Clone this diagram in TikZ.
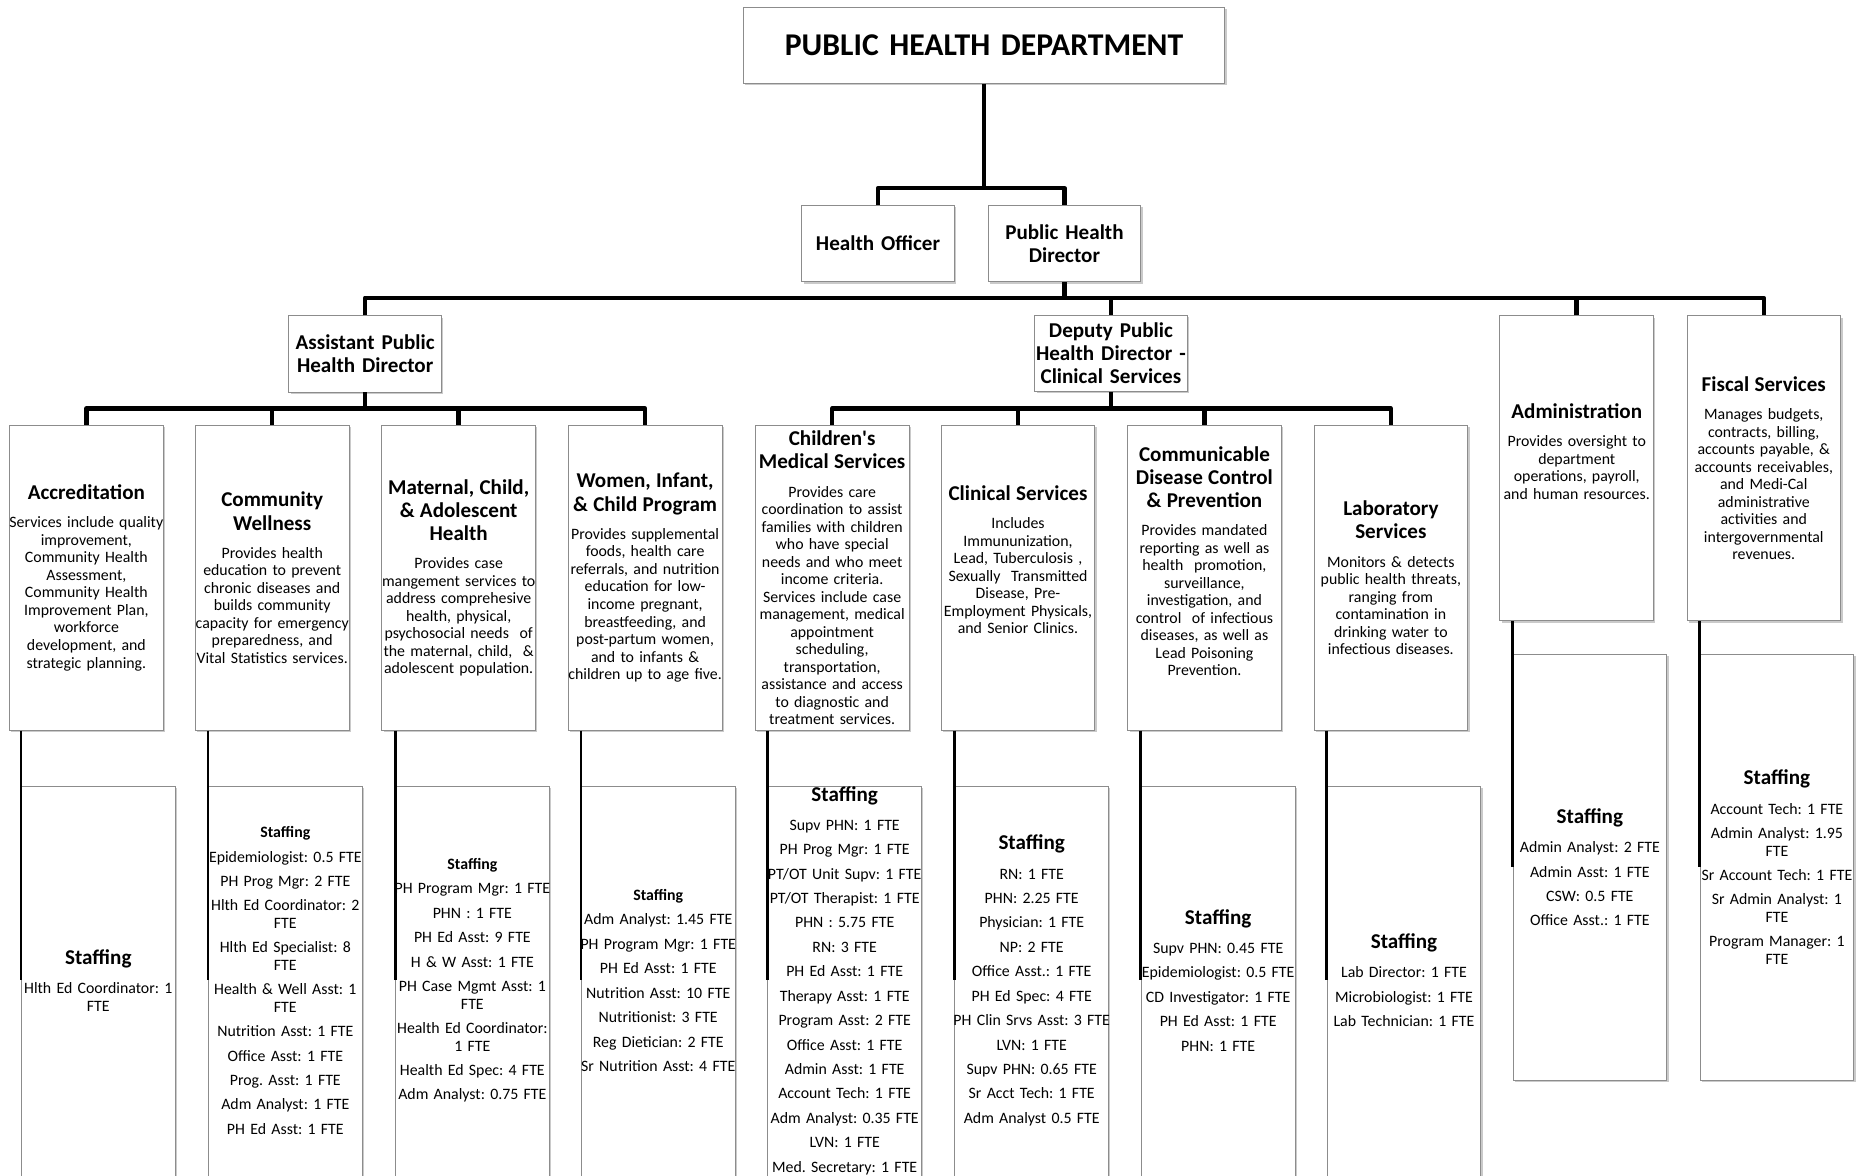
\documentclass[tikz,border=0pt]{standalone}
\usepackage{fontspec}
\setmainfont{Carlito}
\usetikzlibrary{shadows}
\setlength{\parindent}{0pt}
\frenchspacing

\newcommand{\unithd}[1]{{\fontsize{17.7}{19.5}\selectfont\bfseries #1\par}\vspace{9pt}}
\newcommand{\staffhd}{{\fontsize{17.7}{19.5}\selectfont\bfseries Staffing\par}\vspace{4pt}}
\newcommand{\smallstaffhd}{{\bfseries Staffing\par}}

\tikzset{
  box/.style={draw=black!45, fill=white, line width=0.7pt, inner ysep=0pt, inner xsep=-5pt,
    font=\fontsize{13.3}{14.7}\selectfont, execute at begin node=\centering,
    drop shadow={shadow xshift=1.6pt, shadow yshift=-1.6pt, opacity=0.35, fill=black!60}},
  head/.style={box, text width=138pt, minimum width=128pt, minimum height=64pt,
    font=\fontsize{17.7}{19.5}\selectfont\bfseries},
  unit/.style={box, text width=139pt, minimum width=129pt, minimum height=256pt},
  staff/.style={unit, minimum height=358pt, execute at begin node={\setlength{\parskip}{5.8pt}}},
  colstaff/.style={staff, minimum height=340pt, execute at end node={\par\kern14pt}},
  conn/.style={line width=3.8pt, line join=round},
  link/.style={line width=2.4pt}
}

\begin{document}
\begin{tikzpicture}[x=1pt, y=-1pt]

\useasboundingbox (0,0) rectangle (1568,987);

% Department and directors
\node[box, text width=414pt, minimum width=404pt, minimum height=64pt,
  font=\fontsize{26.6}{30}\selectfont\bfseries] (dept) at (826,38) {PUBLIC HEALTH DEPARTMENT};

\node[head] (ho) at (737,204.5) {Health Officer};
\node[head] (dir) at (893.5,204.5) {Public Health\\ Director};

\node[head] (asst) at (306.5,297) {Assistant Public\\ Health Director};
\node[head] (dep) at (932.5,296.5) {Deputy Public\\ Health Director -\\ Clinical Services};

% Administration and fiscal
\node[unit] (adm) at (1323.5,393) {\unithd{Administration}Provides oversight to\\ department\\ operations, payroll,\\ and human resources.\par\kern28pt};
\node[unit] (fisc) at (1480.5,393) {\unithd{Fiscal Services}Manages budgets,\\ contracts, billing,\\ accounts payable, \&\\ accounts receivables,\\ and Medi-Cal\\ administrative\\ activities and\\ intergovernmental\\ revenues.};

% Programs under the assistant director
\node[unit] (acc) at (72.5,485) {\unithd{Accreditation}Services include quality\\ improvement,\\ Community Health\\ Assessment,\\ Community Health\\ Improvement Plan,\\ workforce\\ development, and\\ strategic planning.};
\node[unit] (cw) at (228.5,485) {\unithd{Community\\ Wellness}Provides health\\ education to prevent\\ chronic diseases and\\ builds community\\ capacity for emergency\\ preparedness, and\\ Vital Statistics services.};
\node[unit] (mcah) at (385,485) {\unithd{Maternal, Child,\\ \& Adolescent\\ Health}Provides case\\ mangement services to\\ address comprehesive\\ health, physical,\\ psychosocial needs~~of\\ the maternal, child,~~\&\\ adolescent population.};
\node[unit] (wic) at (541.5,485) {\unithd{Women, Infant,\\ \& Child Program}Provides supplemental\\ foods, health care\\ referrals, and nutrition\\ education for low-\\ income pregnant,\\ breastfeeding, and\\ post-partum women,\\ and to infants \&\\ children up to age five.};

% Programs under the deputy director
\node[unit] (cms) at (698.5,485) {\unithd{Children\textquotesingle s\\ Medical Services}Provides care\\ coordination to assist\\ families with children\\ who have special\\ needs and who meet\\ income criteria.\\ Services include case\\ management, medical\\ appointment\\ scheduling,\\ transportation,\\ assistance and access\\ to diagnostic and\\ treatment services.};
\node[unit] (clin) at (854.5,485) {\unithd{Clinical Services}Includes\\ Immununization,\\ Lead, Tuberculosis~,\\ Sexually~~Transmitted\\ Disease, Pre-\\ Employment Physicals,\\ and Senior Clinics.\par\kern30pt};
\node[unit] (cdcp) at (1011,485) {\unithd{Communicable\\ Disease Control\\ \& Prevention}Provides mandated\\ reporting as well as\\ health~~promotion,\\ surveillance,\\ investigation, and\\ control~~of infectious\\ diseases, as well as\\ Lead Poisoning\\ Prevention.\par\kern28pt};
\node[unit] (lab) at (1167.5,485) {\unithd{Laboratory\\ Services}Monitors \& detects\\ public health threats,\\ ranging from\\ contamination in\\ drinking water to\\ infectious diseases.};

% Staffing
\node[colstaff] (accS) at (82.5,830) {\staffhd Hlth Ed Coordinator: 1\\ FTE};
\node[colstaff] (cwS) at (239.5,830) {\smallstaffhd Epidemiologist: 0.5 FTE\par PH Prog Mgr: 2 FTE\par Hlth Ed Coordinator: 2\\ FTE\par Hlth Ed Specialist: 8\\ FTE\par Health \& Well Asst: 1\\ FTE\par Nutrition Asst: 1 FTE\par Office Asst: 1 FTE\par Prog. Asst: 1 FTE\par Adm Analyst: 1 FTE\par PH Ed Asst: 1 FTE};
\node[colstaff] (mcahS) at (396.5,830) {\smallstaffhd PH Program Mgr: 1 FTE\par PHN : 1 FTE\par PH Ed Asst: 9 FTE\par H \& W Asst: 1 FTE\par PH Case Mgmt Asst: 1\\ FTE\par Health Ed Coordinator:\\ 1 FTE\par Health Ed Spec: 4 FTE\par Adm Analyst: 0.75 FTE};
\node[colstaff] (wicS) at (552.5,830) {\smallstaffhd Adm Analyst: 1.45 FTE\par PH Program Mgr: 1 FTE\par PH Ed Asst: 1 FTE\par Nutrition Asst: 10 FTE\par Nutritionist: 3 FTE\par Reg Dietician: 2 FTE\par Sr Nutrition Asst: 4 FTE};
\node[colstaff] (cmsS) at (709,830) {\staffhd Supv PHN: 1 FTE\par PH Prog Mgr: 1 FTE\par PT/OT Unit Supv: 1 FTE\par PT/OT Therapist: 1 FTE\par PHN : 5.75 FTE\par RN: 3 FTE\par PH Ed Asst: 1 FTE\par Therapy Asst: 1 FTE\par Program Asst: 2 FTE\par Office Asst: 1 FTE\par Admin Asst: 1 FTE\par Account Tech: 1 FTE\par Adm Analyst: 0.35 FTE\par LVN: 1 FTE\par Med. Secretary: 1 FTE};
\node[colstaff] (clinS) at (866,830) {\staffhd RN: 1 FTE\par PHN: 2.25 FTE\par Physician: 1 FTE\par NP: 2 FTE\par Office Asst.: 1 FTE\par PH Ed Spec: 4 FTE\par PH Clin Srvs Asst: 3 FTE\par LVN: 1 FTE\par Supv PHN: 0.65 FTE\par Sr Acct Tech: 1 FTE\par Adm Analyst 0.5 FTE};
\node[colstaff] (cdcpS) at (1022.5,830) {\staffhd Supv PHN: 0.45 FTE\par Epidemiologist: 0.5 FTE\par CD Investigator: 1 FTE\par PH Ed Asst: 1 FTE\par PHN: 1 FTE};
\node[colstaff] (labS) at (1178.5,830) {\staffhd Lab Director: 1 FTE\par Microbiologist: 1 FTE\par Lab Technician: 1 FTE};
\node[staff] (admS) at (1334.5,728) {\staffhd Admin Analyst: 2 FTE\par Admin Asst: 1 FTE\par CSW: 0.5 FTE\par Office Asst.: 1 FTE};
\node[staff] (fiscS) at (1491.5,728) {\staffhd Account Tech: 1 FTE\par Admin Analyst: 1.95\\ FTE\par Sr Account Tech: 1 FTE\par Sr Admin Analyst: 1\\ FTE\par Program Manager: 1\\ FTE};

% Connectors
\coordinate (bar1) at (826,158);
\coordinate (bar2) at (893.5,250);
\coordinate (bar3) at (306.5,343);
\coordinate (bar4) at (932.5,343);

\draw[conn] (dept.south) -- (bar1);
\draw[conn] (ho.north) |- (bar1) -| (dir.north);

\draw[conn] (dir.south) -- (bar2);
\draw[conn] (asst.north) |- (bar2) -| (fisc.north);
\draw[conn] (dep.north) -- (dep.north |- bar2);
\draw[conn] (adm.north) -- (adm.north |- bar2);

\draw[conn] (asst.south) -- (bar3);
\draw[conn] (acc.north) |- (bar3) -| (wic.north);
\draw[conn] (cw.north) -- (cw.north |- bar3);
\draw[conn] (mcah.north) -- (mcah.north |- bar3);

\draw[conn] (dep.south) -- (bar4);
\draw[conn] (cms.north) |- (bar4) -| (lab.north);
\draw[conn] (clin.north) -- (clin.north |- bar4);
\draw[conn] (cdcp.north) -- (cdcp.north |- bar4);

% Staffing links
\draw[link] (acc.south -| accS.west) -- ([yshift=7pt]accS.west);
\draw[link] (cw.south -| cwS.west) -- ([yshift=7pt]cwS.west);
\draw[link] (mcah.south -| mcahS.west) -- ([yshift=7pt]mcahS.west);
\draw[link] (wic.south -| wicS.west) -- ([yshift=7pt]wicS.west);
\draw[link] (cms.south -| cmsS.west) -- ([yshift=7pt]cmsS.west);
\draw[link] (clin.south -| clinS.west) -- ([yshift=7pt]clinS.west);
\draw[link] (cdcp.south -| cdcpS.west) -- ([yshift=7pt]cdcpS.west);
\draw[link] (lab.south -| labS.west) -- ([yshift=7pt]labS.west);
\draw[link] (adm.south -| admS.west) -- (admS.west);
\draw[link] (fisc.south -| fiscS.west) -- (fiscS.west);

\end{tikzpicture}
\end{document}
